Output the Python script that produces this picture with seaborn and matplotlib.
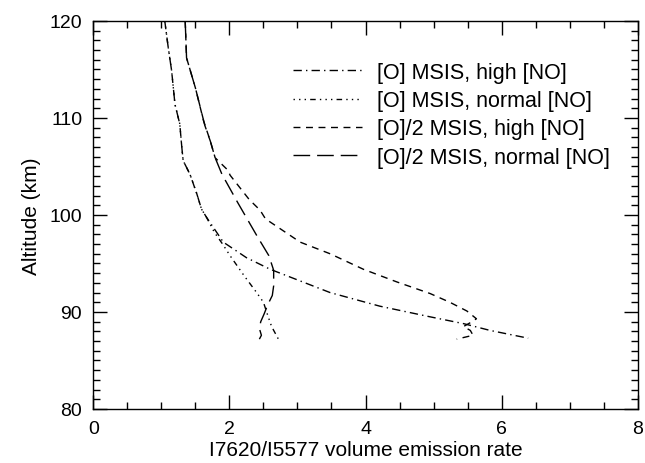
import matplotlib
matplotlib.use("Agg")
import matplotlib.pyplot as plt
import seaborn as sns
import pandas as pd
from matplotlib.ticker import MultipleLocator

# ---- data ----
labels = ["[O] MSIS, high [NO]", "[O] MSIS, normal [NO]",
          "[O]/2 MSIS, high [NO]", "[O]/2 MSIS, normal [NO]"]

alt_o_high = [120, 117.3, 114.9, 111.4, 109.4, 107.0, 105.6, 104.2, 102.2, 100.6,
              99.8, 97.2, 95.6, 94.4, 93.2, 92.0, 90.6, 89.5, 88.8, 88.1, 87.3]
rat_o_high = [1.05, 1.10, 1.15, 1.20, 1.27, 1.30, 1.32, 1.42, 1.52, 1.59,
              1.66, 1.91, 2.25, 2.60, 3.04, 3.48, 4.21, 4.95, 5.44, 5.83, 6.39]

alt_o_norm = [120, 117.3, 114.9, 111.4, 109.4, 107.0, 105.6, 104.2, 102.2, 100.6,
              99.8, 98.2, 97.0, 95.8, 93.7, 92.0, 91.0, 89.5, 88.5, 87.2]
rat_o_norm = [1.05, 1.10, 1.15, 1.20, 1.27, 1.30, 1.32, 1.42, 1.52, 1.59,
              1.66, 1.78, 1.90, 2.01, 2.22, 2.40, 2.50, 2.57, 2.62, 2.72]

alt_o2_high = [120, 116.2, 113.1, 109.7, 107.6, 105.9, 104.6, 104.1, 101.6, 100.5,
               99.6, 97.2, 96.0, 94.4, 93.1, 91.9, 91.0, 90.1, 89.3, 88.9, 88.5,
               88.1, 87.6, 87.2]
rat_o2_high = [1.35, 1.37, 1.50, 1.62, 1.72, 1.79, 1.98, 2.01, 2.29, 2.45,
               2.53, 3.04, 3.48, 3.97, 4.46, 4.95, 5.24, 5.49, 5.63, 5.54, 5.44,
               5.54, 5.58, 5.34]

alt_o2_norm = [120, 116.2, 113.1, 109.2, 107.6, 105.9, 104.2, 101.3, 97.9, 95.8,
               94.3, 92.7, 91.7, 90.7, 89.8, 89.0, 88.3, 87.6, 87.2]
rat_o2_norm = [1.35, 1.37, 1.50, 1.64, 1.72, 1.79, 1.89, 2.12, 2.40, 2.58,
               2.65, 2.65, 2.63, 2.56, 2.51, 2.46, 2.44, 2.47, 2.44]

series = [(labels[0], alt_o_high, rat_o_high),
          (labels[1], alt_o_norm, rat_o_norm),
          (labels[2], alt_o2_high, rat_o2_high),
          (labels[3], alt_o2_norm, rat_o2_norm)]

rows = []
for name, alts, rats in series:
    for a, r in zip(alts, rats):
        rows.append({"series": name, "alt": a, "ratio": r})
df = pd.DataFrame(rows)

sns.set_style("ticks")
plt.rcParams["font.family"] = ["Liberation Sans", "DejaVu Sans"]

fig = plt.figure(figsize=(6.45, 4.64), dpi=100)
ax = fig.add_axes([0.1447, 0.1164, 0.8440, 0.8362])

dashes = {labels[0]: (6, 3, 1, 3),
          labels[1]: (1, 3, 1, 3, 1, 3, 4, 3),
          labels[2]: (5, 4),
          labels[3]: (12, 5)}
palette = {l: "black" for l in labels}

sns.lineplot(data=df, x="ratio", y="alt", hue="series", style="series",
             hue_order=labels, style_order=labels, palette=palette,
             dashes=dashes, sort=False, estimator=None, units="series",
             linewidth=1.0, ax=ax, legend=True)

ax.set_xlim(0, 8)
ax.set_ylim(80, 120)
ax.xaxis.set_major_locator(MultipleLocator(2))
ax.xaxis.set_minor_locator(MultipleLocator(0.5))
ax.yaxis.set_major_locator(MultipleLocator(10))
ax.yaxis.set_minor_locator(MultipleLocator(1))
ax.tick_params(which="both", direction="in", top=True, right=True,
               colors="black", labelsize=14, pad=8)
ax.tick_params(which="major", length=10, width=1)
ax.tick_params(which="minor", length=5, width=1)
for s in ax.spines.values():
    s.set_color("black")
    s.set_linewidth(1.0)
ax.set_xlabel("I7620/I5577 volume emission rate", fontsize=15, color="black",
              labelpad=2)
ax.set_ylabel("Altitude (km)", fontsize=15, color="black", labelpad=6)

leg = ax.legend(loc="upper left", bbox_to_anchor=(0.367, 0.895), frameon=False,
                fontsize=15.5, handlelength=3.2, handletextpad=0.7,
                labelspacing=0.34, borderpad=0, borderaxespad=0,
                labelcolor="black")

fig.savefig("out.png", dpi=100)
